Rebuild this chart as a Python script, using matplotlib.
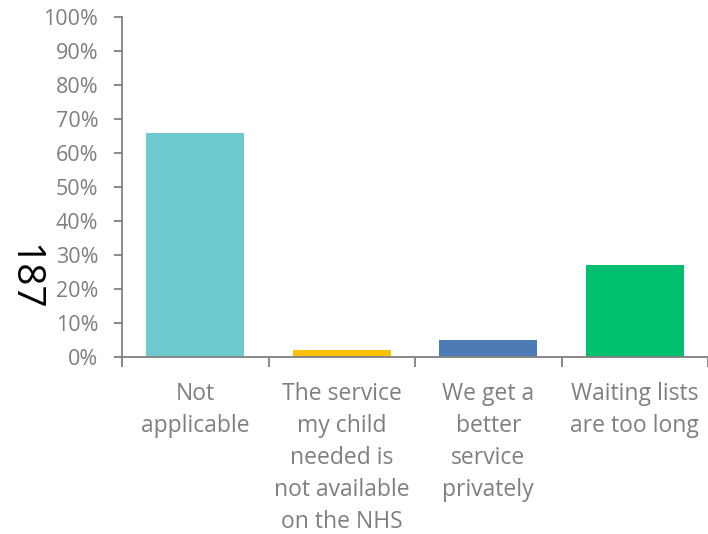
import matplotlib
matplotlib.use("Agg")
import matplotlib.pyplot as plt
import numpy as np

# ------------------------------------------------------------
# Data
# ------------------------------------------------------------

categories = [
    "Not\napplicable",
    "The service\nmy child\nneeded is\nnot available\non the NHS",
    "We get a\nbetter\nservice\nprivately",
    "Waiting lists\nare too long",
]
shares = [66, 2, 5, 27]          # percent of respondents
bar_colors = ["#6CC9CE", "#FFC000", "#4E7AB5", "#00BF6F"]
respondents = "187"

y_ticks = np.arange(0, 101, 10)

# ------------------------------------------------------------
# Plot
# ------------------------------------------------------------

plt.rcParams["font.family"] = ["Open Sans", "DejaVu Sans"]
axis_grey = "#808080"
text_grey = "#7F7F7F"

fig = plt.figure(figsize=(7.08, 5.34), dpi=100)
ax = fig.add_axes([122 / 708, 1 - 357 / 534, 1 - 122 / 708, (357 - 17) / 534])

x = np.arange(len(categories))
ax.bar(x, shares, width=0.67, color=bar_colors, zorder=2)

ax.set_xlim(-0.5, len(categories) - 0.5)
ax.set_ylim(0, 100)

ax.set_yticks(y_ticks)
ax.set_yticklabels([f"{v}%" for v in y_ticks])

ax.set_xticks(x)
ax.set_xticklabels(categories, linespacing=1.45, va="top")
ax.set_xticks(np.arange(-0.5, len(categories)), minor=True)

for side in ["top", "right"]:
    ax.spines[side].set_visible(False)
for side in ["left", "bottom"]:
    ax.spines[side].set_color(axis_grey)
    ax.spines[side].set_linewidth(1.3)

ax.tick_params(axis="y", colors=axis_grey, labelcolor=text_grey,
               length=6, width=1.3, pad=11, labelsize=15.5)
ax.tick_params(axis="x", which="major", length=0, pad=18,
               labelcolor=text_grey, labelsize=16.5)
ax.tick_params(axis="x", which="minor", length=7, width=1.3,
               colors=axis_grey)

fig.text(23 / 708, 1 - 277 / 534, respondents, rotation=270,
         ha="center", va="center", fontsize=28, color="black")

fig.savefig("out.png", dpi=100)
